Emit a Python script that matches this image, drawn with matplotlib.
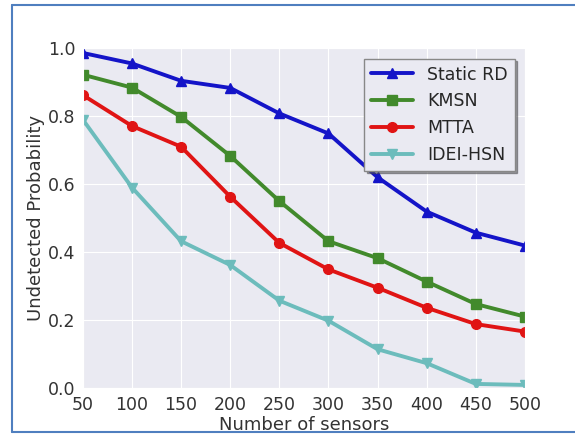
import matplotlib
matplotlib.use("Agg")
import matplotlib.pyplot as plt
from matplotlib.lines import Line2D
import seaborn as sns

sns.set_style("darkgrid")
plt.rcParams['font.family'] = ['DejaVu Sans']

# data
sensors = [50, 100, 150, 200, 250, 300, 350, 400, 450, 500]
static_rd = [0.986, 0.955, 0.904, 0.883, 0.808, 0.749, 0.620, 0.519, 0.457, 0.419]
kmsn = [0.922, 0.884, 0.798, 0.683, 0.550, 0.432, 0.382, 0.313, 0.247, 0.210]
mtta = [0.862, 0.771, 0.710, 0.563, 0.427, 0.349, 0.295, 0.236, 0.188, 0.166]
idei_hsn = [0.790, 0.590, 0.432, 0.362, 0.257, 0.198, 0.114, 0.073, 0.012, 0.009]

fig = plt.figure(figsize=(5.75, 4.34), dpi=100)
ax = fig.add_axes([0.144, 0.106, 0.769, 0.783])

lw, ms = 2.8, 7
ax.plot(sensors, static_rd, '^-', color='#1414c8', lw=lw, ms=ms, label='Static RD')
ax.plot(sensors, kmsn, 's-', color='#428a2c', lw=lw, ms=ms, label='KMSN')
ax.plot(sensors, mtta, 'o-', color='#e01414', lw=lw, ms=ms, label='MTTA')
ax.plot(sensors, idei_hsn, 'v-', color='#6cbcbc', lw=lw, ms=ms, label='IDEI-HSN')

ax.set_xlim(50, 500)
ax.set_ylim(0, 1.0)
ax.set_xticks(sensors)
ax.set_yticks([0.0, 0.2, 0.4, 0.6, 0.8, 1.0])
ax.set_yticklabels(['0.0', '0.2', '0.4', '0.6', '0.8', '1.0'])
ax.tick_params(labelsize=12.5, colors='#333333', pad=2)
ax.set_xlabel('Number of sensors', fontsize=13, color='#333333', labelpad=2)
ax.set_ylabel('Undetected Probability', fontsize=13, color='#333333', labelpad=2)

leg = ax.legend(loc='upper right', fontsize=12.5, frameon=True, shadow=True,
                fancybox=False, borderaxespad=0.6, handlelength=2.4)
leg.get_frame().set_facecolor('#EAEAF2')
leg.get_frame().set_edgecolor('#888888')

# blue frame around the picture
frame_color = '#4f7fbf'
fig.add_artist(Line2D([12 / 575, 12 / 575], [2 / 434, 429 / 434], color=frame_color, lw=1.5))
fig.add_artist(Line2D([12 / 575, 1.0], [429 / 434, 429 / 434], color=frame_color, lw=1.5))
fig.add_artist(Line2D([12 / 575, 1.0], [2 / 434, 2 / 434], color=frame_color, lw=1.5))

fig.savefig('out.png', dpi=100)
